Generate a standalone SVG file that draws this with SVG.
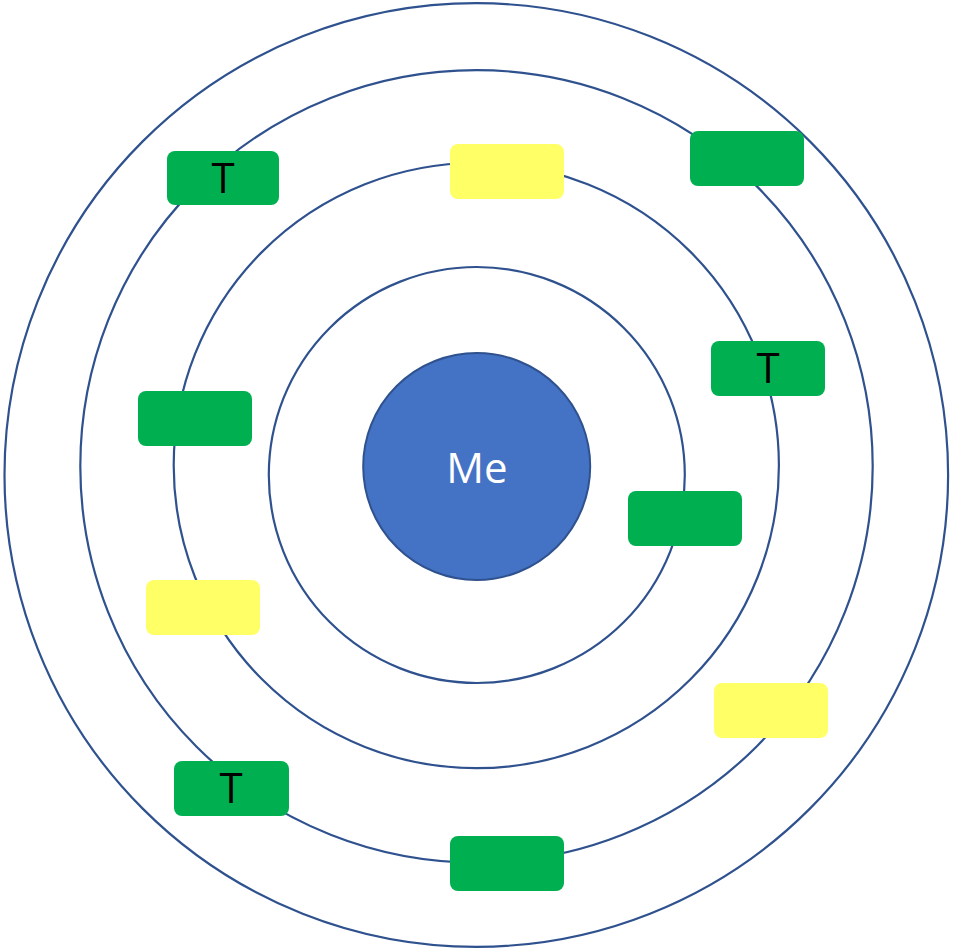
<svg xmlns="http://www.w3.org/2000/svg" width="953" height="951" viewBox="0 0 953 951">
<style>
.ring{fill:none;stroke:#2F528F;stroke-width:2.2}
.g{fill:#00B050}
.y{fill:#FFFF66}
.t{font-family:"Open Sans","Liberation Sans",sans-serif;font-size:42px;fill:#000;text-anchor:middle}
.me{font-family:"Open Sans","Liberation Sans",sans-serif;font-size:42px;fill:#fff;text-anchor:middle}
</style>
<rect width="953" height="951" fill="#fff"/>
<g id="rings">
<circle class="ring" cx="476.3" cy="475" r="471.8"/>
<circle class="ring" cx="476.5" cy="466.3" r="396.2"/>
<circle class="ring" cx="476.3" cy="465.6" r="302.6"/>
<circle class="ring" cx="476.8" cy="475" r="208"/>
</g>
<g id="me">
<circle cx="476.7" cy="466.5" r="113.5" fill="#4472C4" stroke="#2F528F" stroke-width="2"/>
<text class="me" x="477" y="483">Me</text>
</g>
<g id="connectors"></g>
<g id="n1"><rect class="g" x="167" y="151" width="112" height="54" rx="8"/><text class="t" x="223" y="193">T</text></g>
<g id="n2"><rect class="y" x="450" y="144" width="114" height="55" rx="8"/></g>
<g id="n3"><rect class="g" x="690" y="131" width="114" height="55" rx="8"/></g>
<g id="n4"><rect class="g" x="711" y="341" width="114" height="55" rx="8"/><text class="t" x="768" y="383">T</text></g>
<g id="n5"><rect class="g" x="138" y="391" width="114" height="55" rx="8"/></g>
<g id="n6"><rect class="g" x="628" y="491" width="114" height="55" rx="8"/></g>
<g id="n7"><rect class="y" x="146" y="580" width="114" height="55" rx="8"/></g>
<g id="n8"><rect class="y" x="714" y="683" width="114" height="55" rx="8"/></g>
<g id="n9"><rect class="g" x="174" y="761" width="115" height="55" rx="8"/><text class="t" x="231" y="803">T</text></g>
<g id="n10"><rect class="g" x="450" y="836" width="114" height="55" rx="8"/></g>
</svg>
